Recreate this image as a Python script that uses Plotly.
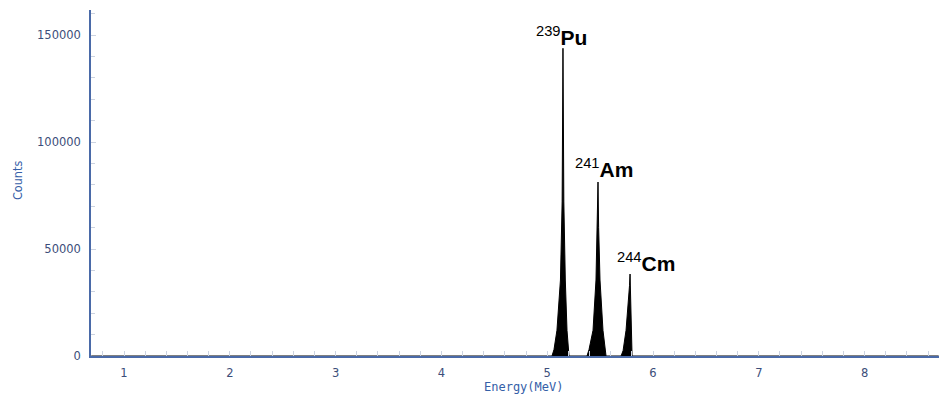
import plotly.graph_objects as go

# --- data ---
pu_energy = [5.045, 5.064, 5.092, 5.125, 5.141, 5.149, 5.157, 5.171, 5.187, 5.206]
pu_counts = [0, 3000, 12000, 35500, 72000, 143800, 72000, 35500, 12000, 0]

am_energy = [5.376, 5.395, 5.433, 5.461, 5.474, 5.480, 5.486, 5.499, 5.527, 5.556]
am_counts = [0, 3000, 12000, 35500, 60000, 81300, 60000, 35500, 12000, 0]

cm_energy = [5.698, 5.717, 5.745, 5.769, 5.778, 5.783, 5.788, 5.794, 5.802]
cm_counts = [0, 2500, 12000, 25000, 33000, 38300, 25000, 12000, 0]

baseline_energy = [0.69, 8.70]
baseline_counts = [0, 0]

labels = ["<sup>239</sup><b>Pu</b>", "<sup>241</sup><b>Am</b>", "<sup>244</sup><b>Cm</b>"]
label_x = [5.135, 5.537, 5.929]
label_y = [149500, 87850, 43900]

x_ticks = [1, 2, 3, 4, 5, 6, 7, 8]
y_ticks = [0, 50000, 100000, 150000]

energy = [baseline_energy[0]] + pu_energy + am_energy + cm_energy + [baseline_energy[1]]
counts = [baseline_counts[0]] + pu_counts + am_counts + cm_counts + [baseline_counts[1]]

fig = go.Figure()
fig.add_trace(go.Scatter(
    x=energy, y=counts, mode="lines",
    line=dict(color="#000000", width=1),
    fill="tozeroy", fillcolor="#000000",
    hoverinfo="x+y", showlegend=False,
))

for t, xx, yy in zip(labels, label_x, label_y):
    fig.add_annotation(x=xx, y=yy, text=t, showarrow=False,
                       xanchor="center", yanchor="middle",
                       font=dict(family="Liberation Sans, Arial", size=21, color="#000000"))

fig.add_annotation(xref="paper", yref="paper", x=(523.5 - 91) / 848, y=(396 - 40 - 386.5) / 346,
                   text="Energy(MeV)", showarrow=False, xanchor="center", yanchor="middle",
                   font=dict(family="DejaVu Sans Mono", size=12, color="#3560a8"))
fig.add_annotation(xref="paper", yref="paper", x=(18 - 91) / 848, y=(356 - 181) / 346,
                   text="Counts", showarrow=False, textangle=-90, xanchor="center", yanchor="middle",
                   font=dict(family="DejaVu Sans Condensed", size=12.5, color="#3560a8"))

axis_color = "#4a6aa8"
tick_font = dict(family="DejaVu Sans", size=11.5, color="#3c4e7a")

fig.update_layout(
    width=939, height=396,
    margin=dict(l=91, r=0, t=10, b=40),
    paper_bgcolor="white", plot_bgcolor="white",
    xaxis=dict(
        range=[0.688, 8.703], tickvals=x_ticks, ticktext=[str(v) for v in x_ticks],
        showgrid=False, zeroline=False, showline=True, linecolor=axis_color, linewidth=1.5,
        ticks="inside", ticklen=5, tickcolor="#ccd3e0", tickwidth=1,
        minor=dict(dtick=0.2, tick0=0, ticks="inside", ticklen=5, tickcolor="#ccd3e0", showgrid=False),
        tickfont=tick_font, ticklabelstandoff=5,
    ),
    yaxis=dict(
        range=[0, 161690], tickvals=y_ticks, ticktext=[str(v) for v in y_ticks],
        showgrid=False, zeroline=False, showline=True, linecolor=axis_color, linewidth=1.5,
        ticks="inside", ticklen=5, tickcolor="#ccd3e0", tickwidth=1,
        minor=dict(dtick=10000, tick0=0, ticks="inside", ticklen=4, tickcolor="#ccd3e0", showgrid=False),
        tickfont=tick_font, ticklabelstandoff=6,
    ),
)

fig.write_html("out.html", config={"displayModeBar": False},
               post_script="document.body.style.margin='0';")
